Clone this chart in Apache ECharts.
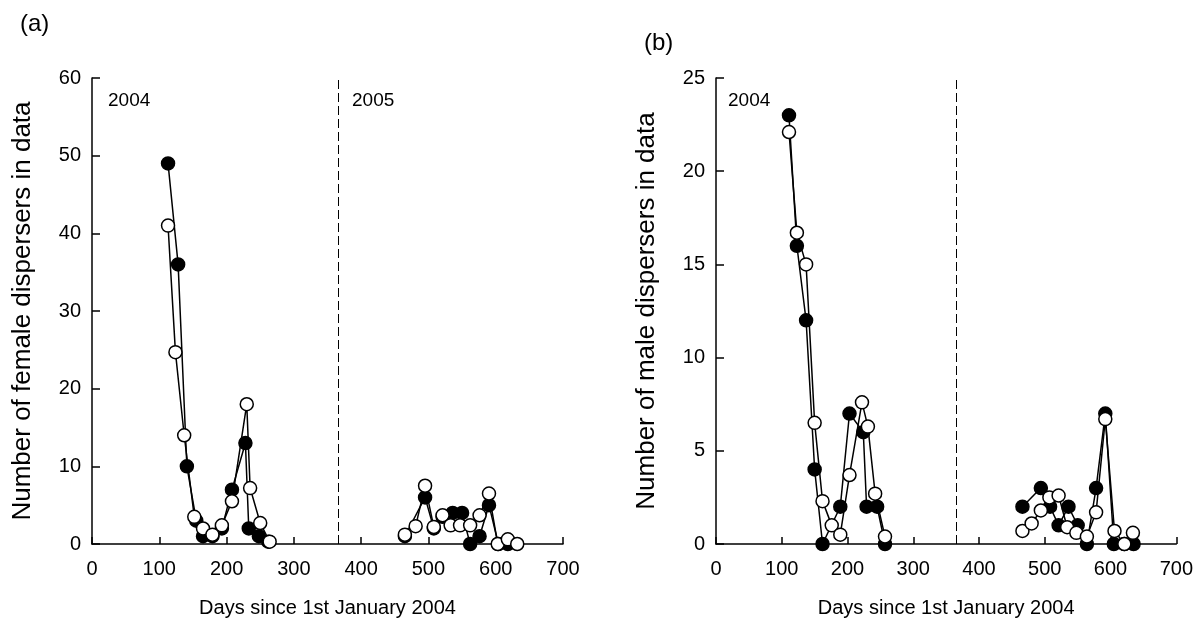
<!DOCTYPE html>
<html>
<head>
<meta charset="utf-8">
<script src="https://cdn.jsdelivr.net/npm/echarts@6/dist/echarts.min.js"></script>
<style>
  html, body { margin: 0; padding: 0; background: #fff; }
  #chart { width: 1196px; height: 628px; }
</style>
</head>
<body>
<div id="chart"></div>
<script>
// Day of the year boundary between the two seasons (1 Jan 2005)
const yearBoundary = 366;

// X ticks shared by both panels
const dayTicks = [0, 100, 200, 300, 400, 500, 600, 700];
const femaleTicks = [0, 10, 20, 30, 40, 50, 60];
const maleTicks = [0, 5, 10, 15, 20, 25];

// (a) female dispersers: [day, count]
const femaleFilled2004 = [[113,49],[128,36],[141,10],[155,3],[165,1],[179,1],[193,2],[208,7],[228,13],[233,2],[248,1],[262,0.3]];
const femaleOpen2004   = [[113,41],[124,24.7],[137,14],[152,3.5],[165,2],[179,1.2],[193,2.4],[208,5.5],[230,18],[235,7.2],[250,2.7],[264,0.3]];
const femaleFilled2005 = [[465,1],[495,6],[508,2],[521,3.5],[536,4],[550,4],[562,0],[576,1],[590,5],[604,0],[618,0]];
const femaleOpen2005   = [[465,1.2],[481,2.3],[495,7.5],[508,2.2],[521,3.7],[533,2.4],[547,2.4],[562,2.4],[576,3.7],[590,6.5],[603,0],[618,0.6],[632,0]];

// (b) male dispersers: [day, count]
const maleFilled2004 = [[111,23],[123,16],[137,12],[150,4],[162,0],[189,2],[203,7],[224,6],[229,2],[245,2],[257,0]];
const maleOpen2004   = [[111,22.1],[123,16.7],[137,15],[150,6.5],[162,2.3],[176,1],[189,0.5],[203,3.7],[222,7.6],[231,6.3],[242,2.7],[257,0.4]];
const maleFilled2005 = [[466,2],[494,3],[508,2],[521,1],[536,2],[550,1],[564,0],[578,3],[592,7],[605,0],[621,0],[635,0]];
const maleOpen2005   = [[466,0.7],[480,1.1],[494,1.8],[507,2.5],[521,2.6],[534,0.9],[548,0.6],[564,0.4],[578,1.7],[592,6.7],[606,0.7],[621,0],[634,0.6]];

const FONT = '"Liberation Sans", Arial, Helvetica, sans-serif';
const INK = '#000';

function xAxisFor(gridIndex) {
  return {
    type: 'value', gridIndex,
    min: dayTicks[0], max: dayTicks[dayTicks.length - 1],
    interval: dayTicks[1] - dayTicks[0],
    name: 'Days since 1st January 2004',
    nameLocation: 'middle', nameGap: 54,
    nameTextStyle: { fontFamily: FONT, fontSize: 20, color: INK },
    axisLine: { show: true, onZero: false, lineStyle: { color: INK, width: 1.5 } },
    axisTick: { show: true, inside: true, length: 7, lineStyle: { color: INK, width: 1.5 } },
    axisLabel: { fontFamily: FONT, fontSize: 20, color: INK, margin: 15 },
    splitLine: { show: false }
  };
}

function yAxisFor(gridIndex, ticks, title) {
  return {
    type: 'value', gridIndex,
    min: ticks[0], max: ticks[ticks.length - 1],
    interval: ticks[1] - ticks[0],
    name: title,
    nameLocation: 'middle', nameGap: 56, nameRotate: 90,
    nameTextStyle: { fontFamily: FONT, fontSize: 26, color: INK },
    axisLine: { show: true, lineStyle: { color: INK, width: 1.5 } },
    axisTick: { show: true, inside: true, length: 8, lineStyle: { color: INK, width: 1.5 } },
    axisLabel: { fontFamily: FONT, fontSize: 20, color: INK, margin: 11 },
    splitLine: { show: false }
  };
}

function track(data, idx, filled, withBoundary) {
  const s = {
    type: 'line', data,
    xAxisIndex: idx, yAxisIndex: idx,
    symbol: 'circle', symbolSize: 13,
    showAllSymbol: true,
    lineStyle: { color: INK, width: 1.5 },
    itemStyle: { color: filled ? INK : '#fff', borderColor: INK, borderWidth: 1.5 },
    z: filled ? 3 : 4,
    silent: true
  };
  if (withBoundary) {
    s.markLine = {
      silent: true, symbol: ['none', 'none'],
      label: { show: false },
      lineStyle: { color: INK, width: 1, type: [9, 4] },
      data: [{ xAxis: yearBoundary }]
    };
  }
  return s;
}

const textStyle = (size) => ({ fontFamily: FONT, fontSize: size, fill: INK });

const option = {
  animation: false,
  backgroundColor: '#fff',
  grid: [
    { left: 92, top: 78, width: 471, height: 466 },
    { left: 716, top: 78, width: 471, height: 466 }
  ],
  xAxis: [xAxisFor(0), xAxisFor(1)],
  yAxis: [
    yAxisFor(0, femaleTicks, 'Number of female dispersers in data'),
    yAxisFor(1, maleTicks, 'Number of male dispersers in data')
  ],
  graphic: [
    { type: 'text', left: 20, top: 12, style: Object.assign({ text: '(a)' }, textStyle(24)) },
    { type: 'text', left: 644, top: 31, style: Object.assign({ text: '(b)' }, textStyle(24)) },
    { type: 'text', left: 108, top: 91, style: Object.assign({ text: '2004' }, textStyle(19)) },
    { type: 'text', left: 352, top: 91, style: Object.assign({ text: '2005' }, textStyle(19)) },
    { type: 'text', left: 728, top: 91, style: Object.assign({ text: '2004' }, textStyle(19)) }
  ],
  series: [
    track(femaleFilled2004, 0, true, true),
    track(femaleFilled2005, 0, true, false),
    track(femaleOpen2004, 0, false, false),
    track(femaleOpen2005, 0, false, false),
    track(maleFilled2004, 1, true, true),
    track(maleFilled2005, 1, true, false),
    track(maleOpen2004, 1, false, false),
    track(maleOpen2005, 1, false, false)
  ]
};

const chart = echarts.init(document.getElementById('chart'), null, { renderer: 'canvas' });
chart.setOption(option);
</script>
</body>
</html>
